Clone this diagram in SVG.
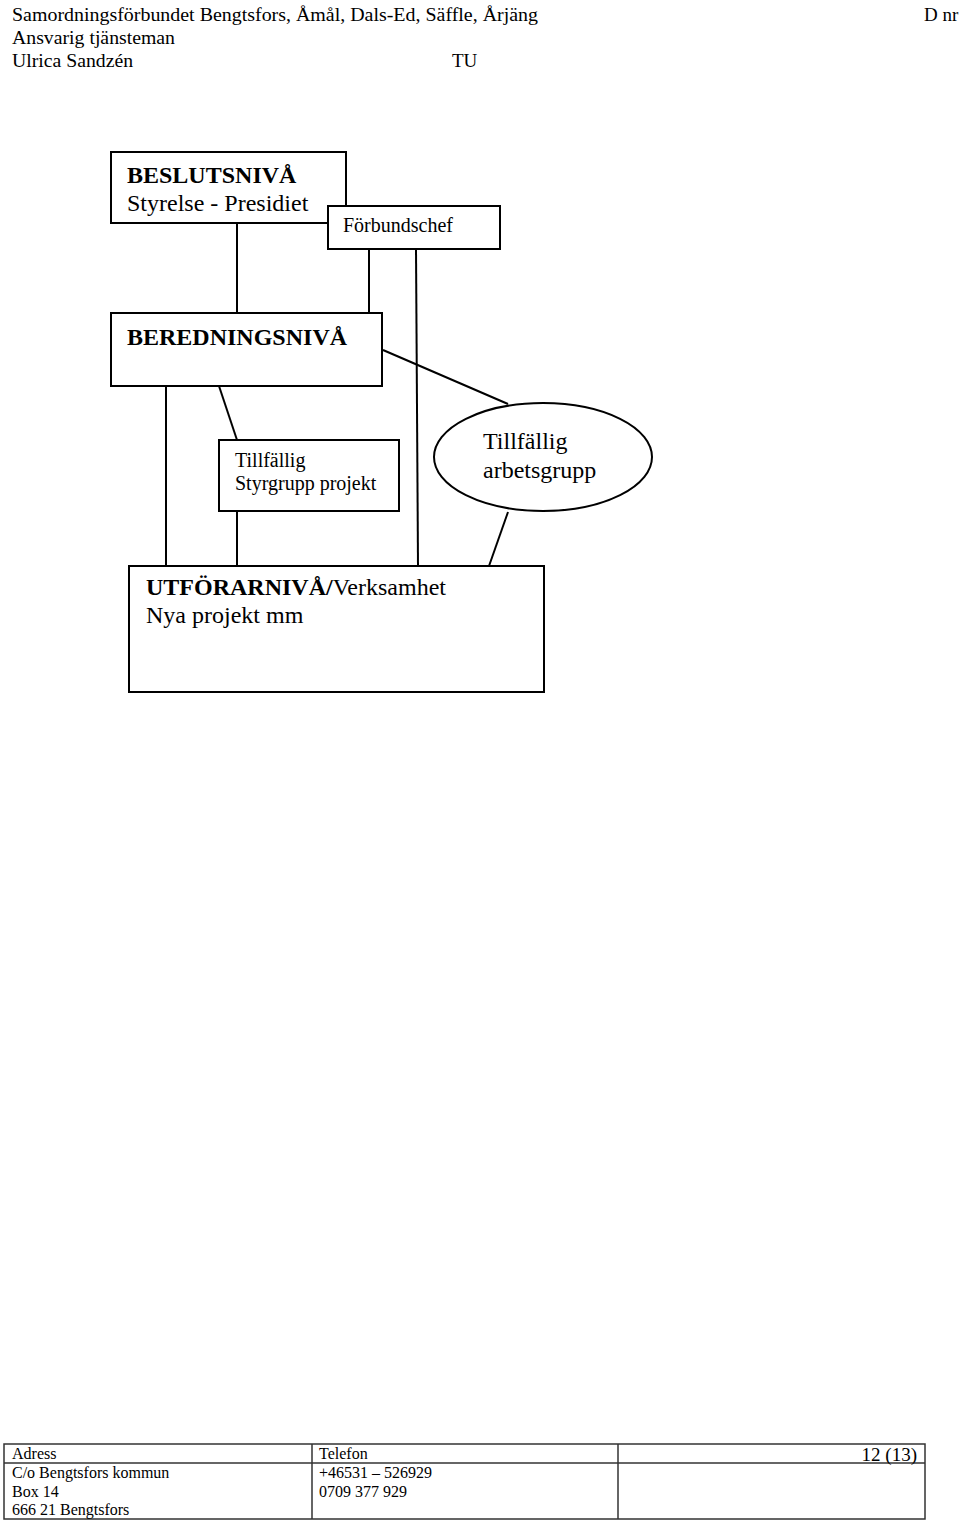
<svg xmlns="http://www.w3.org/2000/svg" width="960" height="1521" viewBox="0 0 960 1521">
<style>
text{font-family:"Liberation Serif","Times New Roman",serif;fill:#000}
.hd{font-size:19px}
.ft{font-size:16px}
.big{font-size:24px}
.mid{font-size:20px}
.b{font-weight:bold}
.box{fill:#fff;stroke:#000;stroke-width:2}
.ln{stroke:#000;stroke-width:2;fill:none}
.tb{fill:none;stroke:#333;stroke-width:1.5}
</style>
<rect width="960" height="1521" fill="#fff"/>
<g id="header">
<text class="hd" x="12" y="21" textLength="526" lengthAdjust="spacingAndGlyphs">Samordningsförbundet Bengtsfors, Åmål, Dals-Ed, Säffle, Årjäng</text>
<text class="hd" x="924" y="21">D nr</text>
<text class="hd" x="12" y="44" textLength="163" lengthAdjust="spacingAndGlyphs">Ansvarig tjänsteman</text>
<text class="hd" x="12" y="67" textLength="121" lengthAdjust="spacingAndGlyphs">Ulrica Sandzén</text>
<text class="hd" x="452" y="67">TU</text>
</g>
<g id="connectors">
<line class="ln" x1="237" y1="223" x2="237" y2="313"/>
<line class="ln" x1="369" y1="249" x2="369" y2="313"/>
<line class="ln" x1="416" y1="249" x2="418" y2="566"/>
<line class="ln" x1="383" y1="350" x2="508" y2="404"/>
<line class="ln" x1="166" y1="386" x2="166" y2="566"/>
<line class="ln" x1="219" y1="386" x2="237" y2="440"/>
<line class="ln" x1="237" y1="511" x2="237" y2="566"/>
<line class="ln" x1="508" y1="512" x2="489" y2="566"/>
</g>
<g id="beslutsniva">
<rect class="box" x="111" y="152" width="235" height="71"/>
<text class="big b" x="127" y="183">BESLUTSNIVÅ</text>
<text class="big" x="127" y="211">Styrelse - Presidiet</text>
</g>
<g id="forbundschef">
<rect class="box" x="328" y="206" width="172" height="43"/>
<text class="mid" x="343" y="232">Förbundschef</text>
</g>
<g id="beredningsniva">
<rect class="box" x="111" y="313" width="271" height="73"/>
<text class="big b" x="127" y="345">BEREDNINGSNIVÅ</text>
</g>
<g id="styrgrupp">
<rect class="box" x="219" y="440" width="180" height="71"/>
<text class="mid" x="235" y="467">Tillfällig</text>
<text class="mid" x="235" y="490">Styrgrupp projekt</text>
</g>
<g id="arbetsgrupp">
<ellipse class="box" cx="543" cy="457" rx="109" ry="54"/>
<text class="big" x="483" y="449">Tillfällig</text>
<text class="big" x="483" y="478">arbetsgrupp</text>
</g>
<g id="utforarniva">
<rect class="box" x="129" y="566" width="415" height="126"/>
<text class="big" x="146" y="595"><tspan class="b">UTFÖRARNIVÅ/</tspan>Verksamhet</text>
<text class="big" x="146" y="623">Nya projekt mm</text>
</g>
<g id="footer">
<rect class="tb" x="4" y="1444" width="921" height="75"/>
<line class="tb" x1="4" y1="1463" x2="925" y2="1463"/>
<line class="tb" x1="312" y1="1444" x2="312" y2="1519"/>
<line class="tb" x1="618" y1="1444" x2="618" y2="1519"/>
<text class="ft" x="12" y="1459">Adress</text>
<text class="ft" x="12" y="1478">C/o Bengtsfors kommun</text>
<text class="ft" x="12" y="1497">Box 14</text>
<text class="ft" x="12" y="1515">666 21 Bengtsfors</text>
<text class="ft" x="319" y="1459">Telefon</text>
<text class="ft" x="319" y="1478">+46531 – 526929</text>
<text class="ft" x="319" y="1497">0709 377 929</text>
<text class="hd" x="917" y="1461" text-anchor="end">12 (13)</text>
</g>
</svg>
